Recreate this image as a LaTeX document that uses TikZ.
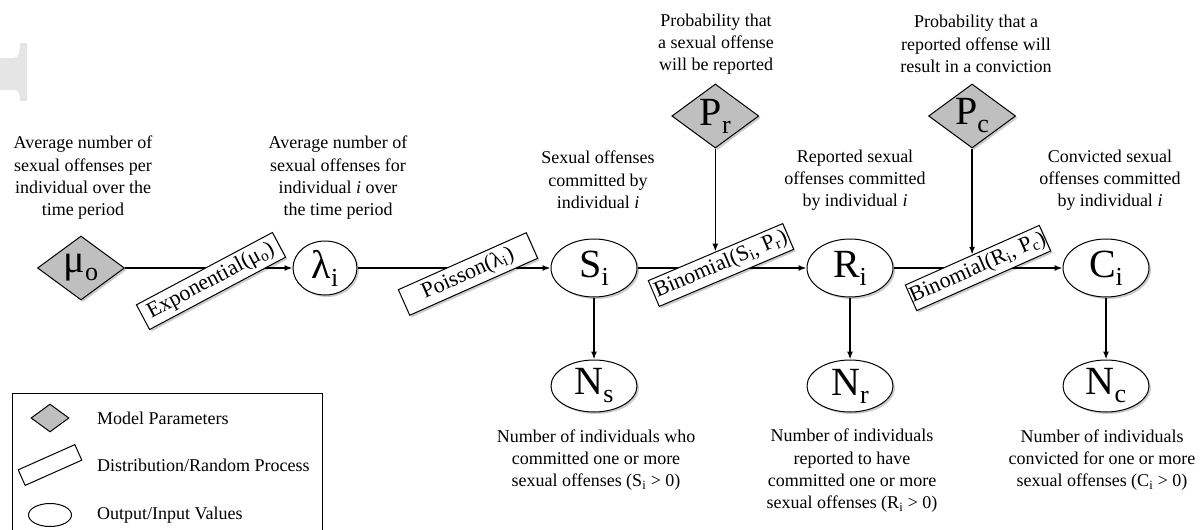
\documentclass[tikz,border=0pt]{standalone}
\usepackage{fontspec}
\setmainfont{Liberation Serif}
\usetikzlibrary{shapes.geometric,positioning,arrows.meta,shadows,backgrounds}

% big letter with lowered index, as in the shapes
\newcommand{\symb}[2]{{\fontsize{40}{40}\selectfont #1\raisebox{-0.2em}{\fontsize{26}{26}\selectfont #2}}}

\begin{document}
\begin{tikzpicture}[x=1pt, y=-1pt,
    pbase/.style={diamond, draw, fill=gray!50, line width=1pt, inner sep=0pt, aspect=1.35},
    vbase/.style={ellipse, draw, fill=white, line width=1pt, inner sep=0pt},
    dbase/.style={rectangle, draw, fill=white, line width=1pt, inner sep=0pt},
    softshadow/.style={drop shadow={shadow xshift=2pt, shadow yshift=-2pt, fill=black, opacity=0.2}},
    param/.style={pbase, softshadow, minimum width=87pt, minimum height=64pt},
    valnode/.style={vbase, softshadow, minimum width=86pt, minimum height=58pt},
    distbox/.style={dbase, softshadow, minimum height=28pt, font=\fontsize{22}{22}\selectfont},
    lbl/.style={align=center, inner sep=0pt, font=\fontsize{18}{22.3}\selectfont},
    link/.style={line width=1.5pt, -{Latex[length=8pt, width=6pt]}}]
            \useasboundingbox (0,0) rectangle (1203,530);

            % Faint mark at the top left
            \fill[gray!20] (0,58) -- (14,58) .. controls (19,58) and (20,50) .. (20,43) -- (27,43) -- (27,101)
                -- (20,101) .. controls (20,94) and (19,90) .. (14,90) -- (0,90) -- cycle;

            % Output/input values
            \node[param] (mu) at (81,268) {\symb{μ}{o}};
            \node[valnode, minimum width=64pt, minimum height=54pt] (lam) at (325,268) {\symb{λ}{i}};
            \node[valnode] (S) at (594,268) {\symb{S}{i}};
            \node[valnode] (R) at (850,268) {\symb{R}{i}};
            \node[valnode] (C) at (1106,268) {\symb{C}{i}};
            \node[valnode, minimum height=52pt] (Ns) at (594,386) {\symb{N}{s}};
            \node[valnode, minimum height=52pt] (Nr) at (850,386) {\symb{N}{r}};
            \node[valnode, minimum height=52pt] (Nc) at (1106,386) {\symb{N}{c}};

            % Distributions
            \node[distbox, rotate=28, minimum width=154pt] (expo) at (211,281) {Exponential(μ\textsubscript{o})};
            \node[distbox, rotate=24, minimum width=140pt] (pois) at (468,274) {Poisson(λ\textsubscript{i})};
            \node[distbox, rotate=23, minimum width=146pt] (binomS) at (721,265) {Binomial(S\textsubscript{i}, P\textsubscript{r})};
            \node[distbox, rotate=24, minimum width=146pt] (binomR) at (978,268) {Binomial(R\textsubscript{i}, P\textsubscript{c})};

            % Model parameters
            \node[param] (Pr) at (binomS.north |- 0,116) {\symb{P}{r}};
            \node[param] (Pc) at (binomR.north |- 0,116) {\symb{P}{c}};

            % Connectors
            \begin{scope}[on background layer]
                \draw[link] (mu) -- (lam);
                \draw[link] (lam) -- (S);
                \draw[link] (S) -- (R);
                \draw[link] (R) -- (C);
                \draw[link] (S) -- (Ns);
                \draw[link] (R) -- (Nr);
                \draw[link] (C) -- (Nc);
                \draw[link] (Pr) -- (binomS.north);
                \draw[link] (Pc) -- (binomR.north);
            \end{scope}

            % Labels
            \node[lbl] (muTxt) at (83,178) {Average number of\\sexual offenses per\\individual over the\\time period};
            \node[lbl] (lamTxt) at (338,178) {Average number of\\sexual offenses for\\individual \textit{i} over\\the time period};
            \node[lbl] (STxt) at (598,180) {Sexual offenses\\committed by\\individual \textit{i}};
            \node[lbl] (PrTxt) at (716,44) {Probability that\\a sexual offense\\will be reported};
            \node[lbl] (RTxt) at (855,180) {Reported sexual\\offenses committed\\by individual \textit{i}};
            \node[lbl] (PcTxt) at (976,44) {Probability that a\\reported offense will\\result in a conviction};
            \node[lbl] (CTxt) at (1110,180) {Convicted sexual\\offenses committed\\by individual \textit{i}};
            \node[lbl] (NsTxt) at (596,460) {Number of individuals who\\committed one or more\\sexual offenses (S\textsubscript{i} > 0)};
            \node[lbl] (NrTxt) at (852,471) {Number of individuals\\reported to have\\committed one or more\\sexual offenses (R\textsubscript{i} > 0)};
            \node[lbl] (NcTxt) at (1102,460) {Number of individuals\\convicted for one or more\\sexual offenses (C\textsubscript{i} > 0)};

            % Legend
            \draw[line width=1pt] (12,531) -- (12,393) -- (322,393) -- (322,531);
            \node[pbase, minimum width=38pt, minimum height=28pt] (legParam) at (50,418) {};
            \node[dbase, rotate=24, minimum width=62pt, minimum height=17pt] (legDist) at (50,465) {};
            \node[vbase, minimum width=43pt, minimum height=23pt] (legVal) at (50,515) {};
            \node[lbl, anchor=west] (legParamTxt) at (97,418) {Model Parameters};
            \node[lbl, anchor=west] (legDistTxt) at (97,465) {Distribution/Random Process};
            \node[lbl, anchor=west] (legValTxt) at (97,515) {Output/Input Values};
        \end{tikzpicture}
\end{document}
